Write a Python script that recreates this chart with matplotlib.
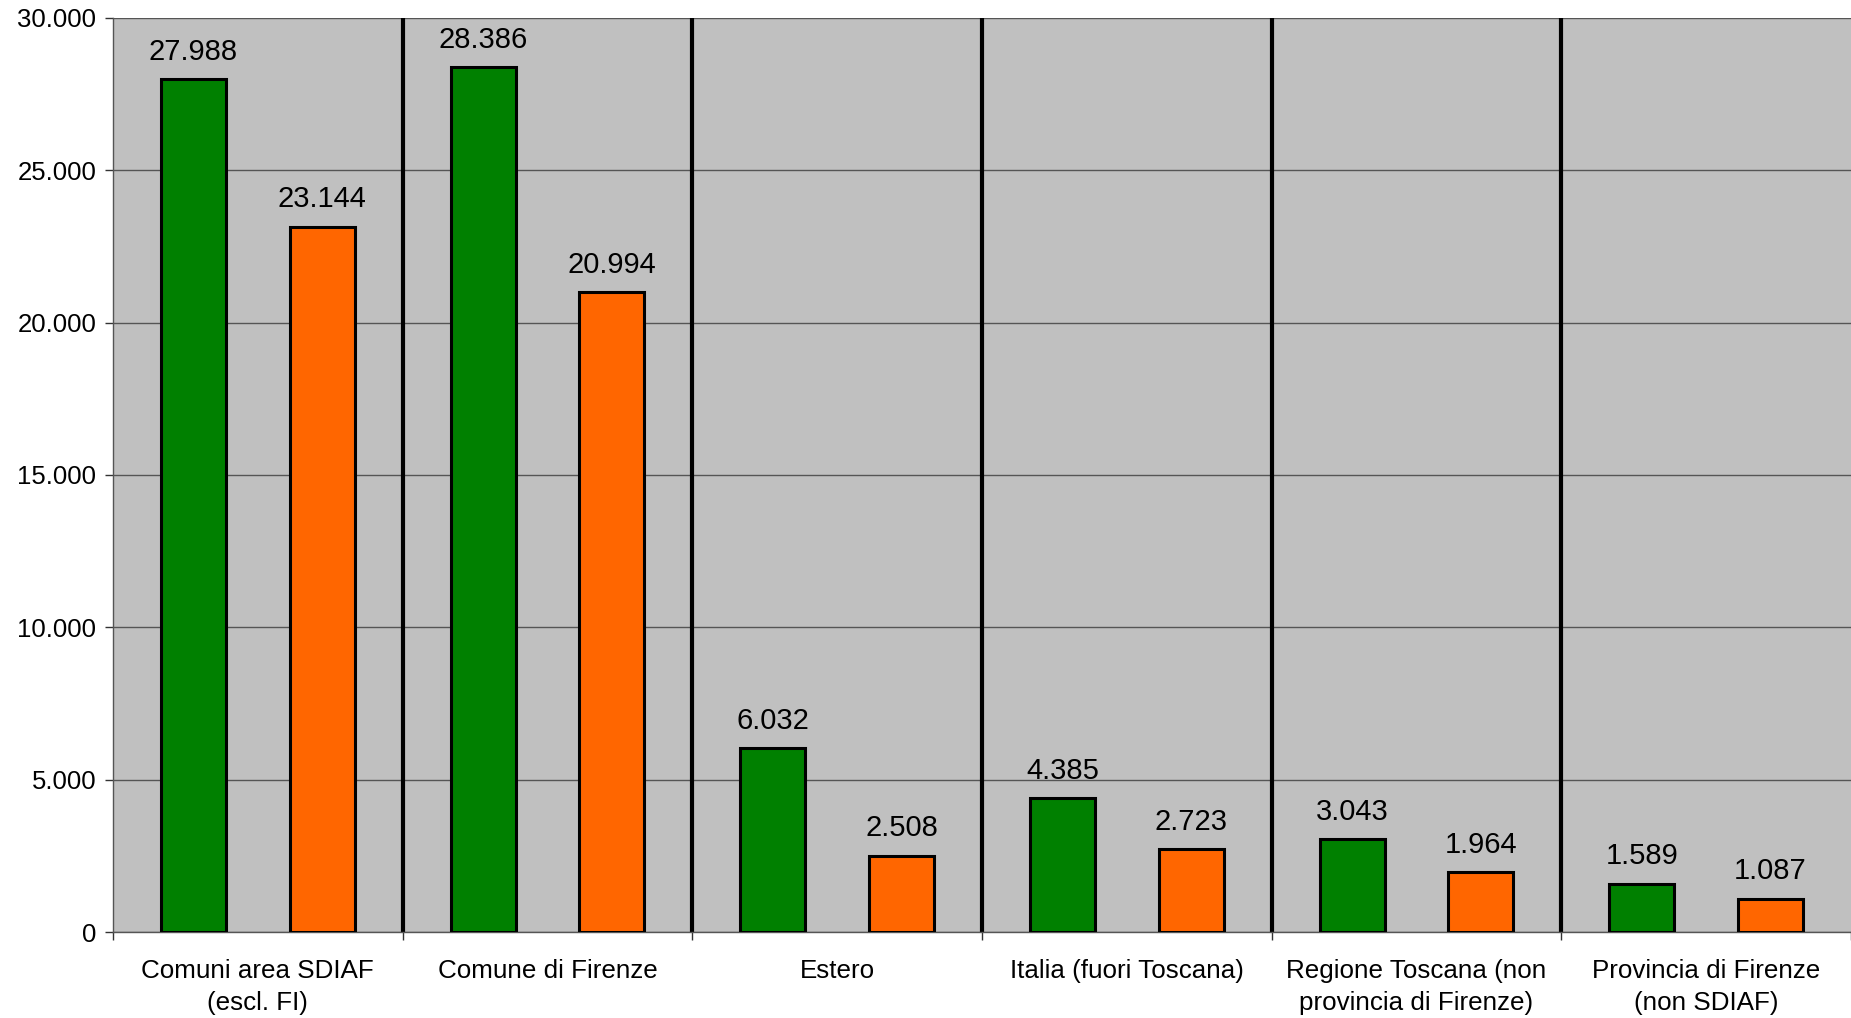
import matplotlib
matplotlib.use('Agg')
import matplotlib.pyplot as plt
from matplotlib.ticker import FuncFormatter, FixedLocator
import numpy as np

# === data ===
categories = [
    "Comuni area SDIAF\n(escl. FI)",
    "Comune di Firenze",
    "Estero",
    "Italia (fuori Toscana)",
    "Regione Toscana (non\nprovincia di Firenze)",
    "Provincia di Firenze\n(non SDIAF)",
]
serie_verde = [27988, 28386, 6032, 4385, 3043, 1589]
serie_arancio = [23144, 20994, 2508, 2723, 1964, 1087]
y_ticks = [0, 5000, 10000, 15000, 20000, 25000, 30000]

plt.rcParams['font.family'] = ['Liberation Sans', 'DejaVu Sans']

fig = plt.figure(figsize=(18.51, 10.18), dpi=100)
ax = fig.add_axes([113 / 1851, 1 - 932 / 1018, 1 - 113 / 1851, (932 - 18) / 1018])
ax.set_facecolor('#C0C0C0')

x = np.arange(len(categories))
w = 0.224
off = 0.222
b1 = ax.bar(x - off, serie_verde, w, color='#008000', edgecolor='black', linewidth=2.2, zorder=3)
b2 = ax.bar(x + off, serie_arancio, w, color='#FF6600', edgecolor='black', linewidth=2.2, zorder=3)

def fmt(v):
    return f"{int(v):,}".replace(",", ".")

for bars, vals in ((b1, serie_verde), (b2, serie_arancio)):
    for rect, v in zip(bars, vals):
        ax.annotate(fmt(v), xy=(rect.get_x() + rect.get_width() / 2, v),
                    xytext=(0, 14), textcoords='offset points',
                    ha='center', va='baseline', fontsize=21, color='black')

# separators between categories
for b in np.arange(0.5, len(categories) - 0.5, 1):
    ax.axvline(b, color='black', linewidth=3, zorder=2)

ax.set_xlim(-0.5, len(categories) - 0.5)
ax.set_ylim(0, 30000)
ax.set_yticks(y_ticks)
ax.yaxis.set_major_formatter(FuncFormatter(lambda v, p: fmt(v)))
ax.grid(axis='y', color='#555555', linewidth=1, zorder=1)

ax.xaxis.set_major_locator(FixedLocator(np.arange(-0.5, len(categories), 1)))
ax.xaxis.set_major_formatter(FuncFormatter(lambda v, p: ''))
ax.xaxis.set_minor_locator(FixedLocator(x))
ax.set_xticklabels(categories, minor=True)
ax.tick_params(axis='x', which='minor', length=0, pad=19.5, labelsize=18.7)
ax.tick_params(axis='x', which='major', length=6, width=1, color='#333333')
ax.tick_params(axis='y', length=6, width=1, color='#333333', labelsize=18.5, pad=6)
for lbl in ax.get_xticklabels(minor=True):
    lbl.set_linespacing(1.4)

for s in ('top', 'right'):
    ax.spines[s].set_visible(False)
ax.spines['left'].set_color('#555555')
ax.spines['bottom'].set_color('#555555')
ax.spines['left'].set_linewidth(1)
ax.spines['bottom'].set_linewidth(1)

fig.savefig('out.png', dpi=100, facecolor='white')
